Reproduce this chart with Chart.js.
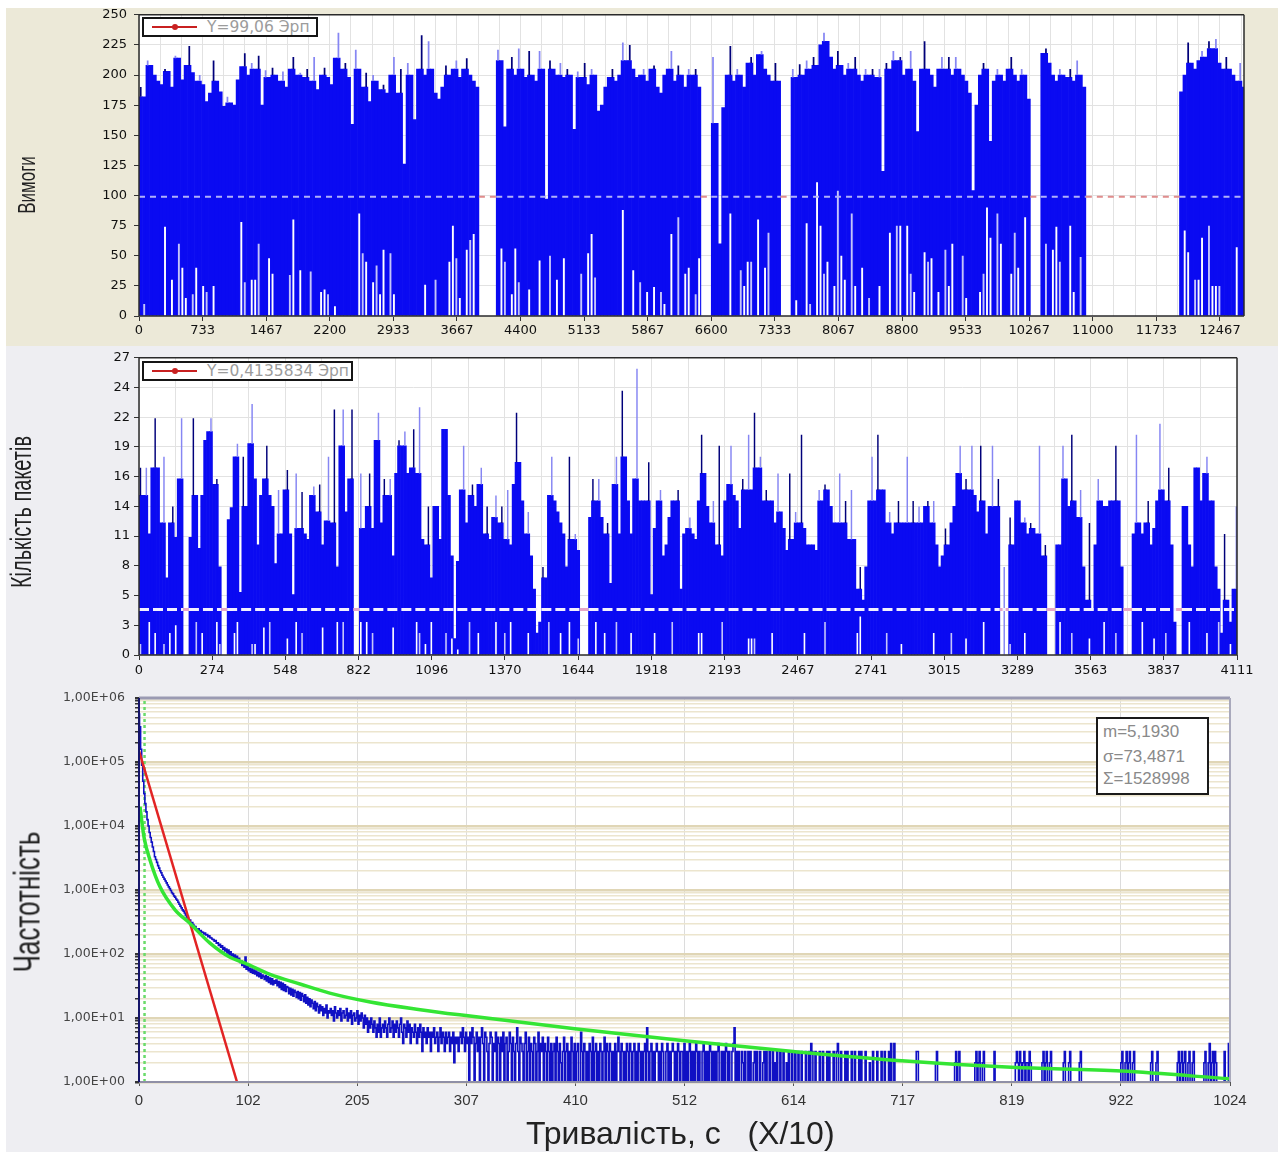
<!DOCTYPE html>
<html>
<head>
<meta charset="utf-8">
<script src="https://cdn.jsdelivr.net/npm/chart.js@4.4.1/dist/chart.umd.min.js"></script>
<style>
body { margin: 0; width: 1278px; height: 1152px; position: relative; overflow: hidden; background: #fff; font-family: "Liberation Sans", Arial, sans-serif; }
.panel { position: absolute; left: 6px; width: 1272px; }
canvas { position: absolute; left: 0; }
.vt { position: absolute; white-space: nowrap; color: #222; transform: translate(-50%, -50%) rotate(-90deg) scaleY(1.45); }
.lg { position: absolute; height: 16px; border: 2px solid #151515; background: #fff; }
.lgline { position: absolute; left: 8px; top: 7px; width: 45px; height: 2px; background: #c82020; }
.lgdot { position: absolute; left: 28px; top: 5px; width: 6px; height: 6px; border-radius: 50%; background: #c82020; }
.lgtext { position: absolute; left: 63px; top: -1px; font: 15.5px "DejaVu Sans", sans-serif; color: #9c9c9c; white-space: nowrap; }
.stats { position: absolute; left: 1096px; top: 717px; width: 109px; height: 74px; border: 2px solid #1a1a1a; background: #fff; }
.stats div { position: absolute; left: 5px; line-height: 20px; font-size: 17px; color: #8a8a8a; white-space: nowrap; }
</style>
</head>
<body>
<div class="panel" style="top:8px;height:338px;background:#ECE9D8"></div>
<div class="panel" style="top:346px;height:334px;background:#EEEEF2"></div>
<div class="panel" style="top:680px;height:472px;background:#EEEEF2"></div>

<canvas id="topChart" width="1278" height="346" style="top:0"></canvas>
<canvas id="midChart" width="1278" height="334" style="top:346px"></canvas>
<canvas id="botChart" width="1278" height="472" style="top:680px"></canvas>

<div class="vt" style="left:28px;top:185px;font-size:17px">Вимоги</div>
<div class="vt" style="left:22px;top:512px;font-size:20px">Кількість пакетів</div>
<div class="vt" style="left:27px;top:902px;font-size:26px">Частотність</div>
<div style="position:absolute;left:526px;top:1115px;font-size:32px;color:#222;white-space:pre">Тривалість, с   (X/10)</div>

<div class="lg" style="left:142px;top:17px;width:172px">
  <span class="lgline"></span><span class="lgdot"></span><span class="lgtext">Y=99,06 Эрп</span>
</div>
<div class="lg" style="left:142px;top:361px;width:207px">
  <span class="lgline"></span><span class="lgdot"></span><span class="lgtext">Y=0,4135834 Эрп</span>
</div>
<div class="stats">
  <div style="top:3px">m=5,1930</div>
  <div style="top:28px">σ=73,4871</div>
  <div style="top:50px">Σ=1528998</div>
</div>

<script>
// ---- top panel: demands per interval (bin = 40 units) ----
const TOP_BIN = 40;
const TOP_X_MAX = 12744;
const topMean = 99.06;
const topXLabels = [0, 733, 1467, 2200, 2933, 3667, 4400, 5133, 5867, 6600, 7333, 8067, 8800, 9533, 10267, 11000, 11733, 12467];
const topYTicks = [0, 25, 50, 75, 100, 125, 150, 175, 200, 225, 250];
const topHi = [
  190,182,212,208,200,195,192,205,203,190,
  216,214,196,208,224,202,195,200,192,178,
  185,212,195,186,174,182,177,175,196,207,
  218,200,210,205,216,175,204,198,206,200,
  195,203,190,205,215,200,202,198,205,195,
  215,188,200,206,198,192,214,235,205,210,
  198,159,221,205,190,202,178,200,195,188,
  192,185,200,215,185,205,126,210,200,163,
  205,233,200,228,205,185,180,190,208,200,
  205,212,198,205,214,200,195,190,null,null,
  null,null,null,221,212,157,205,215,200,222,
  205,198,220,200,195,220,205,97,212,205,
  200,210,198,205,200,155,203,198,210,192,
  205,200,170,175,190,198,205,195,200,227,
  212,225,205,198,200,205,195,205,208,190,
  185,200,205,220,195,208,200,190,205,200,
  205,190,null,null,null,215,160,60,173,200,
  224,195,205,200,190,210,215,200,217,220,
  205,200,195,210,195,null,null,null,205,198,
  209,200,212,205,215,208,225,235,228,215,
  205,220,208,200,210,205,215,200,195,205,
  200,205,198,205,120,210,205,220,212,215,
  200,205,220,195,153,205,228,205,200,190,
  205,215,205,215,200,215,205,200,195,185,
  104,175,200,210,205,145,195,205,200,195,
  205,215,200,195,205,200,180,null,null,null,
  218,222,210,200,195,205,200,198,205,195,
  212,200,190,null,null,null,null,null,null,null,
  null,null,null,null,null,null,null,null,null,null,
  null,null,null,null,null,null,null,null,null,null,
  186,200,227,210,205,212,220,215,228,222,
  230,210,205,215,205,200,195,210,190
];
const topLo = [
  0,10,0,0,0,0,0,74,0,30,
  0,60,40,15,0,18,40,0,25,20,
  0,25,0,0,0,0,0,0,0,78,
  28,0,30,30,60,0,0,48,35,0,
  0,0,0,34,80,0,38,0,0,37,
  0,0,20,22,18,0,8,0,0,0,
  0,0,0,85,52,45,0,28,42,18,
  55,0,52,18,0,0,0,0,0,0,
  0,0,26,0,0,30,0,0,0,45,
  75,48,15,0,55,63,68,0,0,0,
  0,0,0,0,56,45,0,18,56,28,
  0,0,22,0,0,46,0,0,50,0,
  30,0,48,0,0,0,0,35,0,52,
  68,32,0,0,0,0,0,0,0,88,
  0,0,38,0,28,0,20,0,24,0,
  20,10,0,68,0,82,0,35,40,0,
  18,48,0,0,0,0,0,0,0,0,
  85,0,0,38,25,45,45,0,80,0,
  40,69,0,0,0,0,0,0,0,13,
  0,0,77,10,0,111,75,35,45,0,
  25,104,50,30,0,85,25,0,40,0,
  15,0,0,25,0,0,69,0,75,75,
  0,75,35,20,0,0,53,45,48,0,
  20,0,55,25,60,0,0,50,15,0,
  0,0,20,35,90,65,0,85,60,0,
  0,35,69,40,0,82,0,0,0,0,
  0,60,0,55,74,45,0,0,75,20,
  0,49,0,0,0,0,0,0,0,0,
  0,0,0,0,0,0,0,0,0,0,
  0,0,0,0,0,0,0,0,0,0,
  0,71,53,0,30,30,65,0,75,25,
  25,25,0,0,0,0,57,0,0
];

// ---- middle panel: packets per interval (bin = 11 units) ----
const MID_BIN = 11;
const MID_X_MAX = 4111;
const midMean = 4.135834;
const midXLabels = [0, 274, 548, 822, 1096, 1370, 1644, 1918, 2193, 2467, 2741, 3015, 3289, 3563, 3837, 4111];
const midYLabels = ['0', '3', '5', '8', '11', '14', '16', '19', '22', '24', '27'];
const MID_Y_MAX = 27;
const midHi = [
  17,14.5,17,11,17,21.5,17,12,18,7,
  12,13.5,10.7,16,21.5,null,null,10.7,21.5,14.5,
  9.7,14.5,19.5,20.3,21.5,15.5,16,8,null,null,
  12.3,13.4,18,19.2,5.7,18,13.5,19.2,22.8,16,
  10,14.5,16,19,14.5,13.5,8.3,15,11,15,
  16.8,11,5.5,16.5,11.5,14.8,11,10.5,14.5,15.3,
  13,15.5,10,12.2,18,12,22.3,8,19,22.3,
  13,16,22.3,null,null,16.5,11.5,13.5,16.5,11.5,
  19.5,22,12,16,14.5,16,9,16.5,19.5,19,
  20.3,16.5,17,20.5,16.5,22.5,10.5,10,13.5,7,
  13.5,13.5,10.5,20.5,20.5,14.5,9,1.5,8.5,15,
  19,12,14.5,15.5,13.5,15.5,17,11,13.5,10.5,
  12.5,14.5,12,13.5,10.5,15,10,15.5,22,17.5,
  14,11,13,9,6,2,3,8,7,14.5,
  18,14,13,12,11,8,18,10.5,11,9.5,
  null,null,null,12.5,16,14,16,12.5,11,12,
  6.5,15.5,18,11,24,18,14,11,16,26,
  14,14,14,17.5,5.5,11.5,14,15,9,10,
  12.5,14,14,15,6,11,11.5,12.5,11,10.5,
  14,20,16.5,13.5,12,14,10,19,9,14,
  15.5,19,14.5,14,11.5,16,15,20,15,22,
  17,18,14,15,14,14,12,16.5,13,11.5,
  9.5,16.5,10.5,13,12,20,11.5,10,10,10,
  9.5,15,14,15.5,15,13.5,12,12,16.5,12,
  14,10.5,15,10.5,6,8,5,8,14,18,
  14,20,15,15,12,13,11,12,14,12,
  12,18,12,14,12,13.5,12,13.5,14,12,
  14,10,8,9,11.5,10,12,13.5,16.5,19,
  15,16,15,19,14.5,13,19,14,11,13.5,
  19,13.5,16,null,8,null,12.5,10,14,14,
  12,12.5,11,12,11.5,11,19,9,10,null,
  null,null,10,10,19,16,13.5,20,14,12.5,
  15,8,5,12,4,10,16,14,13.5,13.5,
  14,14,19,14,8,null,null,null,11,20,
  12,11,12,14,10,11.5,14,21,15,14,
  17,10,3,null,null,13.5,13.5,10,8,17,
  17,14,16.5,18,14,14,8,6,2,11,
  5,3,6,13.5
];
const midLo = [
  1,0,0,3,0,2,0,0,1,0,2,0,2.7,0,0,0,0,0,0,3,
  0,2,0,0,0,0,3,1,0,0,0,0,2,3,0,0,0,0,1,1,
  0,0,2.5,0,3,0,0,0,0,0,1.5,0,0,3,0,2,0,0,0,0,
  0,0,2.5,0,0,0,0,3,0,3,0,0,0,0,0,3,0,3,0,2,
  0,0,0,0,0,0,2.5,0,0,0,0,0,0,0,3,2,0,1,0,3,
  0,0,0,0,2,0,1.5,0,0.5,0,0,0,3,0,0,2,0,0,0,0,
  0,3,0,0,2,0,3,0,0,0,0,0,2,0,0,0,0,0,0,3,
  0,0,0,2,0,0,3,0,0,1.5,0,0,0,0,0,3,0,0,2,0,
  0,0,3,0,0,0,0,2,0,0,0,0,0,0,0,2,0,0,0,0,
  0,3,0,0,0,0,0,0,0,0,2,2,0,0,0,0,0,0,3,0,
  0,0,0,0,0,0,0,1.5,1.5,1.5,0,0,0,0,0,2,0,0,0,0,
  0,0,0,0,0,0,2,0,0,0,0,0,0,3,0,0,0,0,0,0,
  0,0,0,0,2,3.5,0,0,0,0,0,0,0,0,2,0,0,0,0,1,
  0,0,0,0,0,0,0,0,0,0,2,0,0,0,0,0,2,0,0,0,
  0,1.5,0,0,0,0,0,3,0,0,0,0,0,0,0,0,1,0,0,0,
  0,2,0,0,0,0,0,0,0,0,0,0,0,3,0,0,0,2,0,0,
  0,0,0,1.5,0,0,0,0,3,0,0,0,2,0,0,0,0,0,0,0,
  0,3,0,0,0,1.5,0,0,0,2,0,0,0,0,0,0,0,3,0,0,
  0,0,0,2,0,0,0,3,0,0,0,1,0,0
];

// ---- bottom panel: duration histogram, one value per x = 0..1023 ----
const botXLabels = [0, 102, 205, 307, 410, 512, 614, 717, 819, 922, 1024];
const botYLabels = ['1,00E+00', '1,00E+01', '1,00E+02', '1,00E+03', '1,00E+04', '1,00E+05', '1,00E+06'];
const BOT_X_MAX = 1024;
const botMean = 5.193;
const botCounts = [
  560000,355000,158000,89000,50000,32000,22400,16600,12600,10000,
  7900,6600,5600,4700,4000,3300,3000,2700,2400,2200,
  2000,1860,1700,1580,1480,1380,1290,1200,1120,1050,
  980,910,870,810,775,725,690,645,600,560,
  525,490,468,436,407,380,370,340,338,305,
  310,288,270,268,245,240,248,228,232,220,
  219,205,212,198,202,186,192,180,178,170,
  168,158,162,148,150,136,142,128,134,118,
  126,112,120,104,115,98,108,94,100,88,
  96,84,92,80,86,74,78,66,70,62,
  90,58,64,55,60,52,58,50,56,49,
  54,46,52,44,50,42,47,44,40,46,
  38,44,36,42,34,41,33,38,35,39,
  32,37,30,36,28,35,27,33,26,31,
  30,24,29,23,28,22,27,25,21,26,
  20,25,19,24,22,18,23,17,21,16,
  20,15,19,17,14,18,13,17,15,12,
  16,13,15,11,14,12,16,10,13,12,
  14,11,13,9,15,12,10,13,11,14,
  9,12,13,10,11,14,9,12,10,13,
  8,11,12,9,10,13,8,11,9,12,
  10,7,11,8,10,6,9,7,10,8,
  6,9,7,5,8,6,10,5,7,8,
  6,9,7,5,8,10,6,7,9,5,
  8,6,9,7,5,8,10,6,4,8,
  7,5,9,6,8,4,7,6,5,8,
  6,4,7,5,8,6,3,7,5,6,
  4,7,5,6,3,6,5,7,4,5,
  6,3,5,7,4,6,5,3,6,4,
  5,6,3,5,4,6,2,5,4,5,
  3,5,6,4,7,5,3,6,4,5,1,6,4,7,5,1,4,6,3,5,
  1,5,7,4,1,6,5,3,1,4,6,5,1,4,3,6,1,5,4,1,
  5,3,6,1,4,5,1,3,6,4,1,5,3,1,4,7,3,1,5,4,
  3,1,4,6,1,3,5,1,4,3,1,5,4,1,3,6,1,4,3,5,
  1,4,3,1,5,3,1,4,1,3,4,1,5,3,1,4,2,1,3,5,
  1,3,4,1,3,1,5,3,1,4,1,3,4,1,1,6,3,1,4,3,
  1,3,1,4,3,1,5,1,3,4,1,3,1,4,3,1,3,5,1,4,
  3,1,4,3,1,3,1,4,1,3,5,3,1,4,3,1,3,1,4,3,
  1,4,3,1,3,4,1,3,1,4,3,1,3,1,3,4,1,7,3,1,
  3,4,1,3,1,3,4,3,1,3,1,4,3,1,1,3,4,1,3,1,
  3,4,3,1,3,1,4,3,1,3,3,1,4,1,3,1,3,4,1,3,
  1,3,1,4,3,1,3,1,1,3,4,1,3,1,3,1,4,3,1,3,
  1,3,1,3,4,1,1,3,1,3,1,4,3,1,3,1,1,3,4,7,
  1,3,1,3,1,1,3,2,1,3,1,1,3,1,3,1,1,2,3,1,
  3,1,1,3,1,1,2,3,1,3,1,1,3,1,1,3,1,2,1,3,
  1,1,3,1,1,3,1,1,2,1,3,1,1,3,1,1,3,1,1,3,
  1,1,3,1,1,1,3,1,1,3,1,4,3,1,1,3,1,1,1,3,
  1,1,3,1,1,1,3,1,3,1,1,1,3,1,1,3,4,1,1,3,
  1,1,1,3,1,3,1,1,1,3,1,1,3,1,1,1,3,1,3,1,
  1,1,3,1,1,1,2,1,1,3,1,1,1,3,1,1,1,3,1,1,
  3,1,1,1,3,1,4,1,1,4,1,1,1,1,1,1,1,1,1,1,
  1,1,1,1,1,1,1,1,1,1,3,3,1,1,1,1,1,1,1,1,
  1,1,1,1,1,1,1,1,2,3,1,1,1,1,1,1,1,1,1,1,
  1,1,1,1,1,1,2,3,1,2,3,1,1,1,1,1,1,1,1,1,
  1,1,1,1,1,2,3,1,2,3,1,1,2,3,1,1,1,1,1,1,
  1,1,1,3,1,1,1,1,1,1,1,1,1,1,1,1,1,1,1,1,
  1,1,1,2,3,2,1,3,2,1,2,3,1,2,2,1,3,2,1,1,
  1,1,1,1,1,1,1,1,2,3,1,2,3,1,1,2,3,1,1,1,
  1,1,1,1,1,1,1,1,2,3,1,1,1,2,3,1,1,1,1,1,
  1,1,1,2,3,1,1,1,1,1,1,1,1,1,1,1,1,1,1,1,
  1,1,1,1,1,1,1,1,1,1,1,1,1,1,1,1,1,1,1,1,
  1,1,2,3,1,1,2,3,1,2,3,1,1,2,3,1,1,1,1,1,
  1,1,1,1,1,1,1,1,1,1,2,3,1,1,1,2,3,1,1,1,
  1,1,1,1,1,1,1,1,1,1,1,1,1,1,1,2,3,1,2,3,
  1,2,3,1,1,2,3,1,1,2,3,1,1,1,1,1,1,1,1,1,
  2,3,1,1,2,4,1,2,3,1,3,2,1,1,1,1,1,1,1,3,
  1,1,1,4
];
// fitted curves
const expFitX = [0, 92];
const expFitY = [150000, 1];
const powFitX = [1, 2.5, 5, 10.3, 19.7, 33.8, 47.9, 66.6, 85.4, 99.5, 123, 151, 179, 217, 264, 301, 409, 512, 614, 716, 819, 922, 1024];
const powFitY = [20000, 12300, 6300, 2950, 1120, 490, 300, 148, 89, 72, 48, 34, 24.5, 17.8, 13.5, 11.2, 6.8, 4.4, 3.0, 2.14, 1.7, 1.48, 1.12];

// ---------------------------------------------------------------------------

const plotFrame = {
    id: 'plotFrame',
    beforeDraw(chart, args, opts) {
        const { ctx, chartArea: a } = chart;
        ctx.save();
        ctx.fillStyle = '#fff';
        ctx.fillRect(a.left, a.top, a.right - a.left, a.bottom - a.top);
        ctx.restore();
    },
    afterDatasetsDraw(chart, args, opts) {
        const { ctx, chartArea: a } = chart;
        const side = (s, x1, y1, x2, y2) => {
            ctx.strokeStyle = s[0];
            ctx.lineWidth = s[1];
            ctx.beginPath();
            ctx.moveTo(x1, y1);
            ctx.lineTo(x2, y2);
            ctx.stroke();
        };
        ctx.save();
        side(opts.top, a.left, a.top, a.right, a.top);
        side(opts.right, a.right, a.top, a.right, a.bottom);
        side(opts.bottom, a.left, a.bottom, a.right, a.bottom);
        side(opts.left, a.left, a.top, a.left, a.bottom);
        ctx.restore();
    }
};

// labelled ticks plus unlabelled grid lines between them
function gridTicks(labels, parts, max) {
    const out = [];
    labels.forEach((v, i) => {
        out.push({ value: v, text: String(v) });
        const next = i < labels.length - 1 ? labels[i + 1] : v + (v - labels[i - 1]);
        for (let k = 1; k < parts; k++) {
            const g = v + (next - v) * k / parts;
            if (g < max) out.push({ value: g, text: '' });
        }
    });
    return out;
}

// bars [0, hi]; the part that rises above both neighbours is drawn as a thin spike,
// the bin minimum (lo) is shown as a thin light gap from the base line
function splitBins(lo, hi, width) {
    const body = [];
    const spikes = [];
    const gaps = [];
    for (let i = 0; i < hi.length; i++) {
        if (hi[i] == null) continue;
        const left = hi[i - 1] == null ? 0 : hi[i - 1];
        const right = hi[i + 1] == null ? 0 : hi[i + 1];
        const base = Math.max(lo[i], Math.min(hi[i], Math.max(left, right)));
        const x = (i + 0.5) * width;
        if (base > 0) body.push({ x: x, y: [0, base] });
        if (hi[i] > base) spikes.push({ x: x, y: [base, hi[i]] });
        if (lo[i] > 0) gaps.push({ x: x, y: [0, lo[i]] });
    }
    return { body, spikes, gaps };
}

function meanLine(hi, width, value) {
    const pts = [];
    for (let i = 0; i <= hi.length; i++) pts.push({ x: i * width, y: value });
    return pts;
}

const tickFont = { family: 'DejaVu Sans', size: 13 };
const commonOptions = {
    responsive: false,
    animation: false,
    events: [],
};
const noPlugins = { legend: { display: false }, tooltip: { enabled: false } };

function barSets(bins, hi, width, mean, lineStyle) {
    return [
        {
            type: 'line', data: meanLine(hi, width, mean), order: 0,
            borderWidth: lineStyle.width, borderDash: lineStyle.dash, pointRadius: 0, borderColor: lineStyle.onBar,
            segment: { borderColor: c => hi[c.p0DataIndex] == null ? lineStyle.onWhite : lineStyle.onBar }
        },
        {
            data: bins.spikes, order: 1, grouped: false, barPercentage: 0.5, categoryPercentage: 1,
            backgroundColor: c => c.dataIndex % 2 ? '#8686F3' : '#00007A'
        },
        {
            data: bins.gaps, order: 2, grouped: false, barPercentage: 0.55, categoryPercentage: 1,
            backgroundColor: c => c.dataIndex % 3 ? '#FFFFFF' : '#C4C4FA'
        },
        {
            data: bins.body, order: 3, grouped: false, barPercentage: 1, categoryPercentage: 1,
            backgroundColor: '#0A0AF2'
        }
    ];
}

// ---- top chart ----
const topBins = splitBins(topLo, topHi, TOP_BIN);
const topGrid = gridTicks(topXLabels, 3, TOP_X_MAX);

new Chart(document.getElementById('topChart'), {
    type: 'bar',
    data: { datasets: barSets(topBins, topHi, TOP_BIN, topMean, { width: 2, dash: [6, 5], onBar: '#B0B0FA', onWhite: '#E08C8C' }) },
    options: {
        ...commonOptions,
        layout: { padding: { left: 0, right: 34, top: 14, bottom: 0 } },
        plugins: {
            ...noPlugins,
            plotFrame: { top: ['#2a2a2a', 1.5], right: ['#2a2a2a', 1.5], bottom: ['#2a2a2a', 1.5], left: ['#2a2a2a', 1.5] }
        },
        scales: {
            x: {
                type: 'linear', min: 0, max: TOP_X_MAX, offset: false,
                afterBuildTicks: s => { s.ticks = topGrid.map(t => ({ value: t.value })); },
                afterFit: s => { s.height = 30; },
                grid: { offset: false, color: '#E2E2E2', tickLength: 5, tickColor: c => c.index % 3 === 0 ? '#333' : 'rgba(0,0,0,0)' },
                border: { display: false },
                ticks: { autoSkip: false, maxRotation: 0, padding: 2, color: '#111', font: tickFont, callback: (v, i) => topGrid[i].text }
            },
            y: {
                min: 0, max: 250,
                afterBuildTicks: s => { s.ticks = topYTicks.map(v => ({ value: v })); },
                afterFit: s => { s.width = 139; },
                grid: { color: '#E2E2E2', tickLength: 5, tickColor: '#333' },
                border: { display: false },
                ticks: { padding: 7, color: '#111', font: tickFont, callback: v => String(v) }
            }
        }
    },
    plugins: [plotFrame]
});

// ---- middle chart ----
const midBins = splitBins(midLo, midHi, MID_BIN);
const midGrid = gridTicks(midXLabels, 2, MID_X_MAX);
const midYStep = MID_Y_MAX / (midYLabels.length - 1);

new Chart(document.getElementById('midChart'), {
    type: 'bar',
    data: { datasets: barSets(midBins, midHi, MID_BIN, midMean, { width: 3, dash: [10, 4], onBar: '#F2F0FF', onWhite: '#E6A6C8' }) },
    options: {
        ...commonOptions,
        layout: { padding: { left: 0, right: 41, top: 11, bottom: 0 } },
        plugins: {
            ...noPlugins,
            plotFrame: { top: ['#2a2a2a', 1.5], right: ['#2a2a2a', 1.5], bottom: ['#2a2a2a', 1.5], left: ['#2a2a2a', 1.5] }
        },
        scales: {
            x: {
                type: 'linear', min: 0, max: MID_X_MAX, offset: false,
                afterBuildTicks: s => { s.ticks = midGrid.map(t => ({ value: t.value })); },
                afterFit: s => { s.height = 25; },
                grid: { offset: false, color: '#E2E2E2', tickLength: 5, tickColor: c => c.index % 2 === 0 ? '#333' : 'rgba(0,0,0,0)' },
                border: { display: false },
                ticks: { autoSkip: false, maxRotation: 0, padding: 3, color: '#111', font: tickFont, callback: (v, i) => midGrid[i].text }
            },
            y: {
                min: 0, max: MID_Y_MAX,
                afterBuildTicks: s => { s.ticks = midYLabels.map((t, i) => ({ value: i * midYStep })); },
                afterFit: s => { s.width = 139; },
                grid: { color: '#E2E2E2', tickLength: 5, tickColor: '#333' },
                border: { display: false },
                ticks: { padding: 4, color: '#111', font: tickFont, callback: (v, i) => midYLabels[i] }
            }
        }
    },
    plugins: [plotFrame]
});

// ---- bottom chart ----
const botLogTicks = [];
for (let e = 0; e < botYLabels.length; e++) {
    const top = e === botYLabels.length - 1 ? 1 : 9;
    for (let m = 1; m <= top; m++) {
        botLogTicks.push({ value: m * Math.pow(10, e), text: m === 1 ? botYLabels[e] : '' });
    }
}
const botXStep = BOT_X_MAX / (botXLabels.length - 1);

new Chart(document.getElementById('botChart'), {
    type: 'line',
    data: {
        datasets: [
            {
                data: powFitX.map((x, i) => ({ x: x, y: powFitY[i] })), order: 0,
                borderColor: '#34E534', borderWidth: 3.5, pointRadius: 0, cubicInterpolationMode: 'monotone'
            },
            {
                data: expFitX.map((x, i) => ({ x: x, y: expFitY[i] })), order: 1,
                borderColor: '#E22424', borderWidth: 2.5, pointRadius: 0
            },
            {
                data: botCounts.map((v, i) => ({ x: i, y: v })), order: 2,
                borderColor: '#1010C4', borderWidth: 1.6, pointRadius: 0, stepped: 'middle'
            },
            {
                data: [{ x: botMean, y: 1 }, { x: botMean, y: 1e6 }], order: 3,
                borderColor: '#6ADB6A', borderWidth: 2.5, borderDash: [3, 3], pointRadius: 0
            }
        ]
    },
    options: {
        ...commonOptions,
        layout: { padding: { left: 0, right: 48, top: 18, bottom: 0 } },
        plugins: {
            ...noPlugins,
            plotFrame: { top: ['#9A9AB2', 3], right: ['#A9A9BC', 2], bottom: ['#8F8FA6', 2], left: ['#16166A', 2] }
        },
        scales: {
            x: {
                type: 'linear', min: 0, max: BOT_X_MAX,
                afterBuildTicks: s => { s.ticks = botXLabels.map((t, i) => ({ value: i * botXStep })); },
                afterFit: s => { s.height = 70; },
                grid: { color: '#DCDCDC', tickLength: 4, tickColor: '#555' },
                border: { display: false },
                ticks: {
                    autoSkip: false, maxRotation: 0, padding: 6, color: '#333',
                    font: { family: 'Liberation Sans', size: 15 },
                    callback: (v, i) => String(botXLabels[i])
                }
            },
            y: {
                type: 'logarithmic', min: 1, max: 1e6,
                afterBuildTicks: s => { s.ticks = botLogTicks.map(t => ({ value: t.value })); },
                afterFit: s => { s.width = 139; },
                grid: {
                    color: c => botLogTicks[c.index] && botLogTicks[c.index].text ? '#E0D6B6' : '#ECE5CE',
                    lineWidth: c => botLogTicks[c.index] && botLogTicks[c.index].text ? 2.5 : 1.5,
                    tickLength: 4, tickColor: '#333'
                },
                border: { display: false },
                ticks: { autoSkip: false, padding: 10, color: '#444', font: { family: 'DejaVu Sans', size: 12.5 }, callback: (v, i) => botLogTicks[i].text }
            }
        }
    },
    plugins: [plotFrame]
});
</script>
</body>
</html>
